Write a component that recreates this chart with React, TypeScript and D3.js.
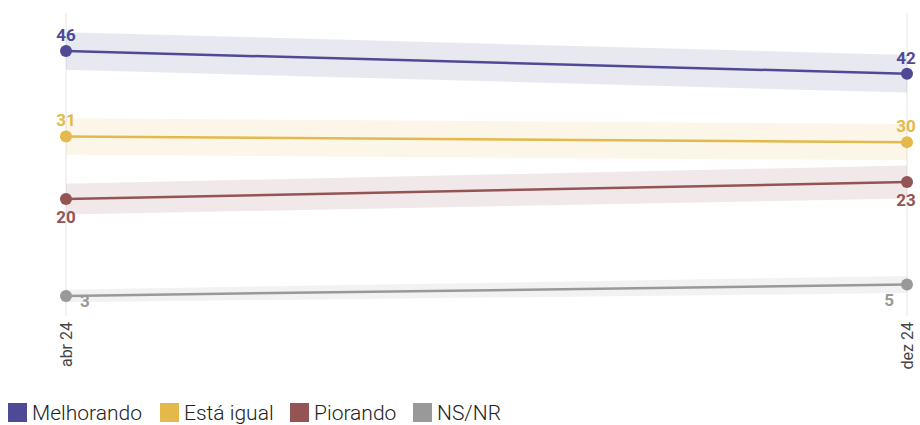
import React from "react";
import * as d3 from "d3";

const periods = ["abr 24", "dez 24"];
const seriesNames = ["Melhorando", "Está igual", "Piorando", "NS/NR"];
const seriesColors = ["#4f4a96", "#e3b94b", "#945454", "#999999"];
const melhorando = [46, 42];
const estaIgual = [31, 30];
const piorando = [20, 23];
const nsnr = [3, 5];
const melhorandoMargin = [3.3, 3.3];
const estaIgualMargin = [3.2, 3.2];
const piorandoMargin = [2.7, 2.9];
const nsnrMargin = [1.1, 1.5];
// label position per point
const labelPos = [
  ["above", "above"],
  ["above", "above"],
  ["below", "below"],
  ["belowRight", "belowLeft"],
];

const W = 920;
const H = 425;

export default function App() {
  const values = [melhorando, estaIgual, piorando, nsnr];
  const margins = [melhorandoMargin, estaIgualMargin, piorandoMargin, nsnrMargin];
  const x = d3.scalePoint<string>().domain(periods).range([66, 907]);
  const y = d3.scaleLinear().domain([0, 46]).range([313, 51]);

  const line = d3
    .line<number>()
    .x((_, i) => x(periods[i])!)
    .y((d) => y(d));

  const legendX = [8, 160, 290, 413];

  return (
    <svg
      width={W}
      height={H}
      style={{ position: "absolute", left: 0, top: 0, fontFamily: "Roboto, sans-serif" }}
    >
      {periods.map((p) => (
        <g key={p}>
          <line x1={x(p)} x2={x(p)} y1={13} y2={316} stroke="#e6e6e6" strokeWidth={1} />
          <text
            transform={`translate(${x(p)! + 5.5},322) rotate(-90)`}
            textAnchor="end"
            fontSize={16}
            fill="#444"
          >
            {p}
          </text>
        </g>
      ))}
      {values.map((vals, s) => {
        const area = d3
          .area<number>()
          .x((_, i) => x(periods[i])!)
          .y0((d, i) => y(d - margins[s][i]))
          .y1((d, i) => y(d + margins[s][i]));
        return (
          <path key={"a" + s} d={area(vals)!} fill={seriesColors[s]} fillOpacity={0.13} />
        );
      })}
      {values.map((vals, s) => (
        <g key={"l" + s}>
          <path d={line(vals)!} fill="none" stroke={seriesColors[s]} strokeWidth={2.5} />
          {vals.map((v, i) => (
            <circle key={i} cx={x(periods[i])} cy={y(v)} r={6} fill={seriesColors[s]} />
          ))}
        </g>
      ))}
      {values.map((vals, s) =>
        vals.map((v, i) => {
          const pos = labelPos[s][i];
          let lx = x(periods[i])!;
          let ly = y(v);
          let anchor = "middle";
          if (pos === "above") {
            ly -= 10;
          } else if (pos === "below") {
            ly += 24;
          } else if (pos === "belowRight") {
            lx += 14;
            ly += 11;
            anchor = "start";
          } else {
            lx -= 13;
            ly += 21;
            anchor = "end";
          }
          if (i === 1 && anchor === "middle") lx -= 1;
          return (
            <text
              key={s + "-" + i}
              x={lx}
              y={ly}
              textAnchor={anchor}
              fontSize={17}
              fontWeight={700}
              fill={seriesColors[s]}
            >
              {v}
            </text>
          );
        })
      )}
      {seriesNames.map((n, s) => (
        <g key={"lg" + s}>
          <rect x={legendX[s]} y={403} width={19} height={19} fill={seriesColors[s]} />
          <text x={legendX[s] + 24} y={419.5} fontSize={21} fontWeight={300} fill="#222">
            {n}
          </text>
        </g>
      ))}
    </svg>
  );
}
